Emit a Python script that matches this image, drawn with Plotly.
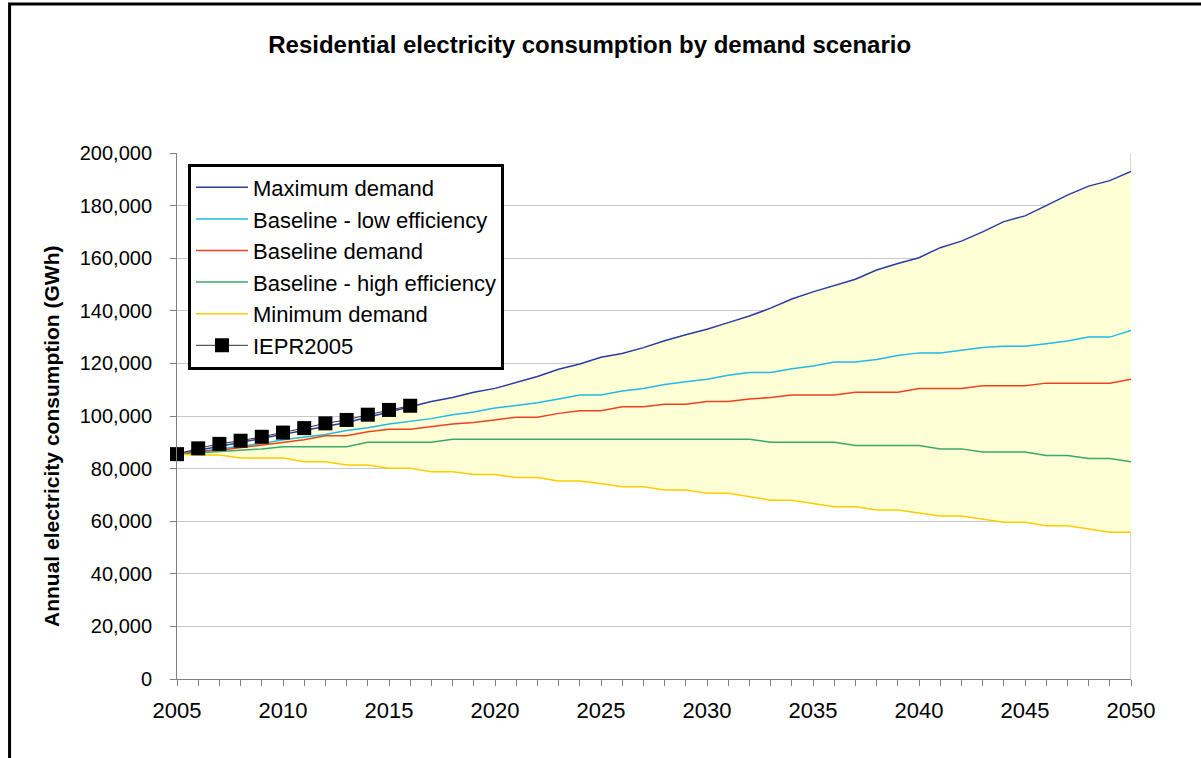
import plotly.graph_objects as go

years = list(range(2005, 2051))

# Annual residential consumption, thousand GWh
maximum_demand = [85.5, 87, 88.5, 90, 91.5, 93, 94.5, 96, 97.5, 99.5, 101.5, 103.5, 105.5, 107, 109,
                  110.5, 112.8, 115, 117.8, 119.8, 122.3, 123.8, 126, 128.6, 130.9, 133, 135.5, 138,
                  141, 144.5, 147.2, 149.5, 152, 155.5, 158, 160.2, 164, 166.5, 170, 173.9, 176.1,
                  180, 184, 187.4, 189.5, 193]
baseline_low_eff = [85.5, 86.5, 87.5, 88.5, 89.5, 91, 92, 93, 94.5, 95.5, 97, 98, 99, 100.5, 101.5,
                    103, 104, 105, 106.5, 108, 108, 109.5, 110.5, 112, 113, 114, 115.5, 116.5, 116.5,
                    118, 119, 120.5, 120.5, 121.5, 123, 124, 124, 125, 126, 126.5, 126.5, 127.5,
                    128.5, 130, 130, 132.5]
baseline_demand = [85.5, 86.5, 87, 88, 89, 90, 91, 92.5, 92.5, 94, 95, 95, 96, 97, 97.5, 98.5, 99.5,
                   99.5, 101, 102, 102, 103.5, 103.5, 104.5, 104.5, 105.5, 105.5, 106.5, 107, 108,
                   108, 108, 109, 109, 109, 110.5, 110.5, 110.5, 111.5, 111.5, 111.5, 112.5, 112.5,
                   112.5, 112.5, 114]
baseline_high_eff = [85.5, 86, 86.5, 87, 87.5, 88.3, 88.3, 88.3, 88.3, 90, 90, 90, 90, 91.2, 91.2,
                     91.2, 91.2, 91.2, 91.2, 91.2, 91.2, 91.2, 91.2, 91.2, 91.2, 91.2, 91.2, 91.2,
                     90, 90, 90, 90, 88.8, 88.8, 88.8, 88.8, 87.5, 87.5, 86.3, 86.3, 86.3, 85, 85,
                     83.8, 83.8, 82.6]
minimum_demand = [85.5, 85.2, 85.2, 84, 84, 84, 82.6, 82.6, 81.4, 81.4, 80.1, 80.1, 78.8, 78.8, 77.8,
                  77.8, 76.6, 76.6, 75.3, 75.3, 74.2, 73.1, 73.1, 71.9, 71.9, 70.6, 70.6, 69.3, 68,
                  68, 66.8, 65.5, 65.5, 64.3, 64.3, 63.1, 62, 62, 60.8, 59.6, 59.6, 58.3, 58.3, 57,
                  55.8, 55.8]

iepr_years = list(range(2005, 2017))
iepr2005 = [85.5, 87.7, 89.4, 90.6, 92.1, 93.7, 95.4, 97.2, 98.5, 100.5, 102.3, 103.9]

y_ticks = list(range(0, 200001, 20000))


def gwh(values):
    return [v * 1000 for v in values]


FONT = "Liberation Sans, Arial, sans-serif"

fig = go.Figure()

# shaded range between minimum and maximum demand
fig.add_trace(go.Scatter(x=years, y=gwh(minimum_demand), mode="lines", line=dict(width=0),
                         showlegend=False, hoverinfo="skip"))
fig.add_trace(go.Scatter(x=years, y=gwh(maximum_demand), mode="lines", line=dict(width=0),
                         fill="tonexty", fillcolor="#FFFFD6", showlegend=False, hoverinfo="skip"))

series = [
    ("Maximum demand", maximum_demand, "#2B3BA6"),
    ("Baseline - low efficiency", baseline_low_eff, "#22B8E8"),
    ("Baseline demand", baseline_demand, "#F0401E"),
    ("Baseline - high efficiency", baseline_high_eff, "#3AA86A"),
    ("Minimum demand", minimum_demand, "#FFCC00"),
]
for name, vals, color in series:
    fig.add_trace(go.Scatter(x=years, y=gwh(vals), mode="lines", name=name,
                             line=dict(color=color, width=1.5)))

fig.add_trace(go.Scatter(x=iepr_years, y=gwh(iepr2005), mode="lines+markers", name="IEPR2005",
                         line=dict(color="#333333", width=1),
                         marker=dict(symbol="square", size=14, color="#000000"),
                         cliponaxis=False))

# outer chart frame and plot-area right edge
fig.add_shape(type="rect", xref="paper", yref="paper", x0=-0.1755, x1=1.2, y0=-0.3, y1=1.2835,
              line=dict(color="#000000", width=3), layer="above")
fig.add_shape(type="line", xref="x", yref="y", x0=2050, x1=2050, y0=0, y1=200000,
              line=dict(color="#B0B0B0", width=1), layer="below")

fig.add_annotation(text="<b>Annual electricity consumption (GWh)</b>", xref="paper", yref="paper",
                   x=-0.131, y=0.462, xanchor="center", yanchor="middle", textangle=-90,
                   showarrow=False, font=dict(family=FONT, size=21, color="#000000"))

fig.update_layout(
    width=1201, height=758,
    margin=dict(l=177, r=70, t=153, b=79),
    paper_bgcolor="#FFFFFF", plot_bgcolor="#FFFFFF",
    font=dict(family=FONT, size=20, color="#000000"),
    title=dict(text="<b>Residential electricity consumption by demand scenario</b>",
               x=0.491, xref="container", xanchor="center",
               y=1 - 45 / 758, yref="container", yanchor="middle",
               font=dict(family=FONT, size=24, color="#000000")),
    legend=dict(x=0.0115, y=0.98, xanchor="left", yanchor="top",
                bordercolor="#000000", borderwidth=3, bgcolor="#FFFFFF",
                font=dict(family=FONT, size=22, color="#000000"),
                traceorder="normal", itemwidth=52, tracegroupgap=0),
    showlegend=True,
)

fig.update_xaxes(range=[2005, 2050], tick0=2005, dtick=5, ticks="outside", ticklen=6,
                 tickcolor="#808080", showline=True, linecolor="#808080", linewidth=1,
                 showgrid=False, zeroline=False, ticklabelstandoff=6,
                 tickfont=dict(family=FONT, size=22, color="#000000"),
                 minor=dict(dtick=1, ticks="outside", ticklen=6, tickcolor="#808080", showgrid=False))
fig.update_yaxes(range=[0, 200000], tickvals=y_ticks, tickformat=",d", ticks="outside", ticklen=6,
                 tickcolor="#808080", showline=True, linecolor="#808080", linewidth=1,
                 showgrid=True, gridcolor="#C8C8C8", gridwidth=1, zeroline=False,
                 ticklabelstandoff=14,
                 tickfont=dict(family=FONT, size=20, color="#000000"))

fig.write_html("out.html")
